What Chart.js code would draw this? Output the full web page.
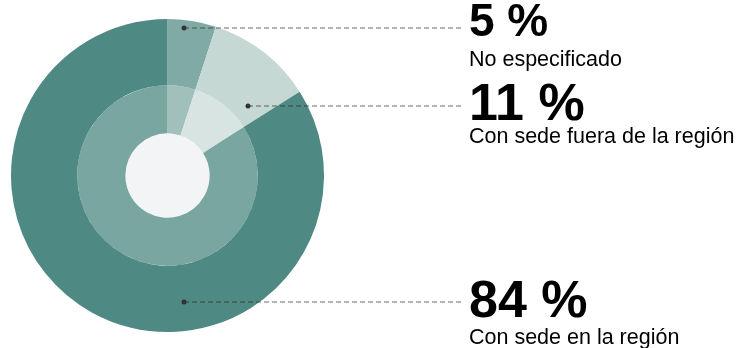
<!DOCTYPE html>
<html>
<head>
<meta charset="utf-8">
<script src="https://cdn.jsdelivr.net/npm/chart.js@4.4.1/dist/chart.umd.min.js"></script>
<style>
  html, body { margin: 0; padding: 0; background: #ffffff; }
  #wrap { position: relative; width: 737px; height: 348px; }
</style>
</head>
<body>
<div id="wrap"><canvas id="originChart"></canvas></div>
<script>
// Data
const categories = ["No especificado", "Con sede fuera de la región", "Con sede en la región"];
const shares = [5, 11, 84];
const shareLabels = ["5 %", "11 %", "84 %"];

// Colours (outer ring, inner lighter ring, centre disc)
const outerColors = ["#80aaa5", "#c6d8d4", "#4f8983"];
const innerColors = ["#a1c0bc", "#d8e4e2", "#79a6a0"];
const centerColor = "#f3f4f6";

// Callout placement: y of the leader line, x of the dot, sizes of the texts
const callouts = [
    { lineY: 28,  dotX: 184, valueY: 36,  valueSize: 46, textY: 66 },
    { lineY: 106, dotX: 248, valueY: 120, valueSize: 52, textY: 143 },
    { lineY: 302, dotX: 184, valueY: 317, valueSize: 52, textY: 344 }
];
const textX = 469;

const calloutPlugin = {
    id: "callouts",
    afterDraw(chart) {
        const ctx = chart.ctx;
        ctx.save();
        callouts.forEach((c, i) => {
            // dashed leader
            ctx.strokeStyle = "rgba(40,40,40,0.45)";
            ctx.lineWidth = 1.5;
            ctx.setLineDash([5, 3]);
            ctx.beginPath();
            ctx.moveTo(c.dotX, c.lineY);
            ctx.lineTo(textX - 6, c.lineY);
            ctx.stroke();
            ctx.setLineDash([]);

            // dot
            ctx.fillStyle = "#333333";
            ctx.beginPath();
            ctx.arc(c.dotX, c.lineY, 2.5, 0, Math.PI * 2);
            ctx.fill();

            // texts
            ctx.fillStyle = "#000000";
            ctx.textAlign = "left";
            ctx.textBaseline = "alphabetic";
            ctx.font = "bold " + c.valueSize + "px 'Liberation Sans', Arial, sans-serif";
            ctx.fillText(shareLabels[i], textX, c.valueY);
            ctx.font = "21.5px 'Liberation Sans', Arial, sans-serif";
            ctx.fillText(categories[i], textX, c.textY);
        });
        ctx.restore();
    }
};

const ctx = document.getElementById("originChart").getContext("2d");
new Chart(ctx, {
    type: "pie",
    data: {
        labels: categories,
        datasets: [
            { data: shares, backgroundColor: outerColors, borderWidth: 0, weight: 66 },
            { data: shares, backgroundColor: innerColors, borderWidth: 0, weight: 48 },
            { data: [100], backgroundColor: [centerColor], borderWidth: 0, weight: 42 }
        ]
    },
    options: {
        responsive: true,
        maintainAspectRatio: false,
        animation: false,
        events: [],
        layout: { padding: { left: 11, top: 19, right: 413, bottom: 16 } },
        plugins: {
            legend: { display: false },
            tooltip: { enabled: false }
        }
    },
    plugins: [calloutPlugin]
});
</script>
</body>
</html>
